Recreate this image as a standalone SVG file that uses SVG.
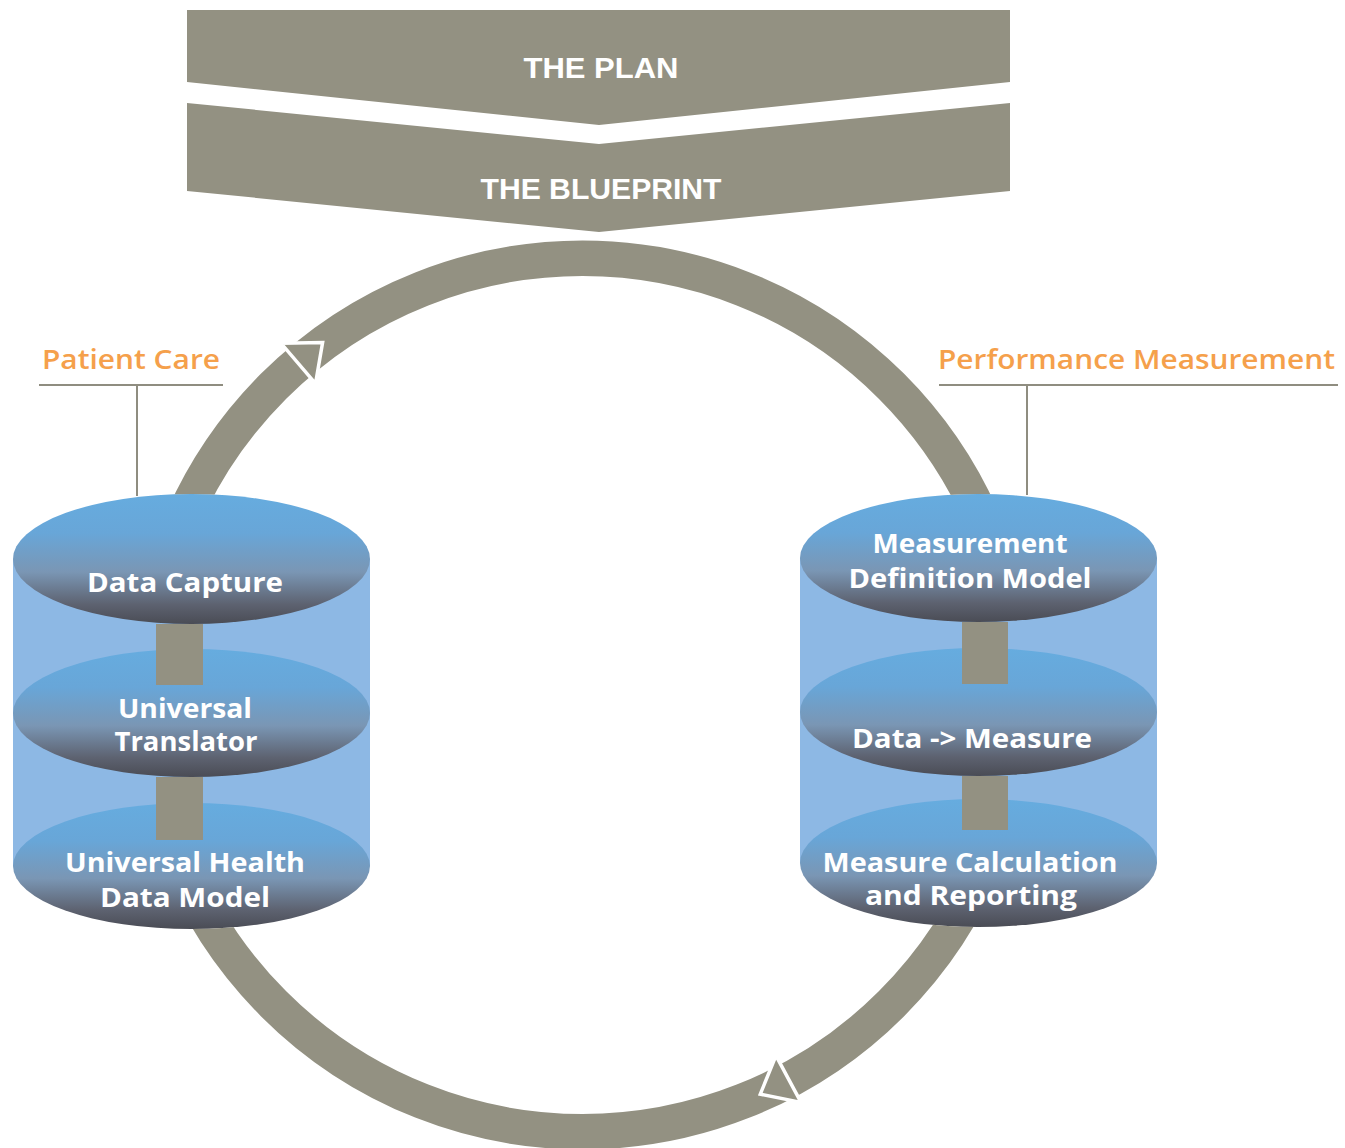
<svg xmlns="http://www.w3.org/2000/svg" width="1345" height="1148" viewBox="0 0 1345 1148">
  <defs>
    <style>
      .banner { fill: #939182; }
      .banner-text { font-family: "Liberation Sans", Arial, sans-serif; font-weight: 700; font-size: 29px; fill: #ffffff; text-anchor: middle; }
      .layer-text { font-family: "Open Sans", "Liberation Sans", sans-serif; font-weight: 700; font-size: 26px; fill: #ffffff; text-anchor: middle; }
      .label-text { font-family: "Open Sans", "Liberation Sans", sans-serif; font-weight: 600; font-size: 27px; fill: #f5a04b; }
      .leader { stroke: #8f8d80; stroke-width: 2; fill: none; }
      .body { fill: #8db8e4; }
      .disc { fill: url(#discShade); }
      .bar { fill: #939182; }
      .ring { fill: none; stroke: #939182; stroke-width: 35.5; }
      .head { fill: #939182; stroke: #ffffff; stroke-width: 3.5; stroke-linejoin: miter; }
    </style>
    <linearGradient id="discShade" x1="0" y1="0" x2="0" y2="1">
      <stop offset="0" stop-color="#66acdf"/>
      <stop offset="0.3" stop-color="#68a6d8"/>
      <stop offset="0.6" stop-color="#7a96b4"/>
      <stop offset="0.85" stop-color="#5d6270"/>
      <stop offset="1" stop-color="#4a4c55"/>
    </linearGradient>
    <!-- hides the cycle ring where it passes behind the two stacks -->
    <mask id="behindStacks" maskUnits="userSpaceOnUse" x="0" y="0" width="1345" height="1148">
      <rect x="0" y="0" width="1345" height="1148" fill="#fff"/>
      <ellipse cx="191.5" cy="559" rx="178.5" ry="65" fill="#000"/>
      <rect x="13" y="559" width="357" height="307" fill="#000"/>
      <ellipse cx="191.5" cy="866" rx="178.5" ry="63" fill="#000"/>
      <ellipse cx="978.5" cy="558" rx="178.5" ry="64" fill="#000"/>
      <rect x="800" y="558" width="357" height="305" fill="#000"/>
      <ellipse cx="978.5" cy="863" rx="178.5" ry="64" fill="#000"/>
    </mask>
  </defs>

  <rect width="1345" height="1148" fill="#ffffff"/>

  <!-- chevron banners -->
  <g id="the-plan">
    <polygon class="banner" points="187,10 1010,10 1010,82 599,125 187,82"/>
    <text class="banner-text" x="601" y="78" textLength="155" lengthAdjust="spacingAndGlyphs">THE PLAN</text>
  </g>
  <g id="the-blueprint">
    <polygon class="banner" points="187,103 599,144 1010,103 1010,191 599,232 187,191"/>
    <text class="banner-text" x="601" y="199" textLength="241" lengthAdjust="spacingAndGlyphs">THE BLUEPRINT</text>
  </g>

  <!-- left stack -->
  <g id="patient-care-stack">
    <rect class="body" x="13" y="559" width="357" height="307"/>
    <g id="data-capture">
      <ellipse class="disc" cx="191.5" cy="559" rx="178.5" ry="65"/>
      <text class="layer-text" x="185" y="592" textLength="196" lengthAdjust="spacingAndGlyphs">Data Capture</text>
    </g>
    <g id="universal-translator">
      <ellipse class="disc" cx="191.5" cy="713" rx="178.5" ry="64"/>
      <text class="layer-text" x="185" y="718" textLength="134" lengthAdjust="spacingAndGlyphs">Universal</text>
      <text class="layer-text" x="186" y="751" textLength="143" lengthAdjust="spacingAndGlyphs">Translator</text>
    </g>
    <g id="universal-health-data-model">
      <ellipse class="disc" cx="191.5" cy="866" rx="178.5" ry="63"/>
      <text class="layer-text" x="185" y="872" textLength="240" lengthAdjust="spacingAndGlyphs">Universal Health</text>
      <text class="layer-text" x="185" y="907" textLength="170" lengthAdjust="spacingAndGlyphs">Data Model</text>
    </g>
  </g>

  <!-- right stack -->
  <g id="performance-stack">
    <rect class="body" x="800" y="558" width="357" height="305"/>
    <g id="measurement-definition-model">
      <ellipse class="disc" cx="978.5" cy="558" rx="178.5" ry="64"/>
      <text class="layer-text" x="970" y="553" textLength="195" lengthAdjust="spacingAndGlyphs">Measurement</text>
      <text class="layer-text" x="970" y="588" textLength="243" lengthAdjust="spacingAndGlyphs">Definition Model</text>
    </g>
    <g id="data-to-measure">
      <ellipse class="disc" cx="978.5" cy="712" rx="178.5" ry="64"/>
      <text class="layer-text" x="972" y="748" textLength="240" lengthAdjust="spacingAndGlyphs">Data -&gt; Measure</text>
    </g>
    <g id="measure-calculation-reporting">
      <ellipse class="disc" cx="978.5" cy="863" rx="178.5" ry="64"/>
      <text class="layer-text" x="970" y="872" textLength="295" lengthAdjust="spacingAndGlyphs">Measure Calculation</text>
      <text class="layer-text" x="971" y="905" textLength="212" lengthAdjust="spacingAndGlyphs">and Reporting</text>
    </g>
  </g>

  <!-- side labels -->
  <g id="patient-care-label">
    <text class="label-text" x="42" y="369" textLength="178" lengthAdjust="spacingAndGlyphs">Patient Care</text>
  </g>
  <g id="performance-measurement-label">
    <text class="label-text" x="938" y="369" textLength="397" lengthAdjust="spacingAndGlyphs">Performance Measurement</text>
  </g>

  <!-- connectors: cycle ring, stack links, label leaders -->
  <g id="connectors">
    <circle class="ring" cx="582.5" cy="695" r="436.75" mask="url(#behindStacks)"/>
    <polygon class="head" points="0,-26.5 32,0 0,26.5" transform="translate(298.3,363.4) rotate(319.4)"/>
    <polygon class="head" points="0,-26.5 32,0 0,26.5" transform="translate(788.5,1079) rotate(151.8)"/>

    <rect class="bar" x="156" y="624" width="47" height="61"/>
    <rect class="bar" x="156" y="777" width="47" height="63"/>
    <rect class="bar" x="962" y="622" width="46" height="62"/>
    <rect class="bar" x="962" y="776" width="46" height="54"/>

    <path class="leader" d="M39 385 H223 M137 385 V496"/>
    <path class="leader" d="M939 385 H1338 M1027 385 V495"/>
  </g>
</svg>
